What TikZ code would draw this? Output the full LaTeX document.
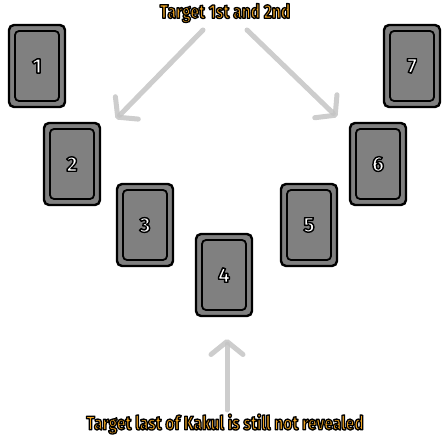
\documentclass[tikz,border=0pt]{standalone}
\usepackage{fontspec}
\setsansfont{Fira Sans}
\newfontfamily\titlefont{Fira Sans}[FakeStretch=0.8]
\usetikzlibrary{arrows.meta,positioning}
\definecolor{cardgray}{HTML}{808080}
\definecolor{titleorange}{HTML}{F4A620}
\definecolor{arrowgray}{HTML}{C4C4C4}
% outlined text: fill in the current colour, stroke in black
\newcommand{\outlined}[2]{\special{pdf:literal direct 0 0 0 RG 1 j #1 w 2 Tr}#2\special{pdf:literal direct 0 Tr}}

\begin{document}
\begin{tikzpicture}[
    x=1pt, y=-1pt,
    card/.style={rectangle, draw=black, line width=2.4pt, fill=cardgray, rounded corners=5pt,
                 minimum width=56pt, minimum height=82pt, inner sep=0pt},
    cardin/.style={rectangle, draw=black, line width=1.8pt, rounded corners=4pt,
                   minimum width=44pt, minimum height=70pt, inner sep=0pt, text=white,
                   font=\sffamily\bfseries\fontsize{21}{21}\selectfont},
    hint/.style={text=titleorange, font=\titlefont\bfseries\fontsize{19.5}{19.5}\selectfont},
    arr/.style={draw=arrowgray, line width=5pt, line cap=round, opacity=0.85,
                -{Straight Barb[length=13pt, width=32pt, line width=5pt, round]}}
]
\useasboundingbox (0,0) rectangle (447,438);

% ---- Cards ----
\foreach \n/\x/\y in {1/37/66, 2/72/164, 3/145/225, 4/224/275, 5/309/225, 6/378/164, 7/412/66}{
    \node[card] (card\n) at (\x,\y) {};
    \node[cardin] (in\n) at (card\n) {\outlined{1.4}{\n}};
}

% ---- Hints ----
\node[hint] (top) at (225,13) {\outlined{1.3}{Target 1st and 2nd}};
\node[hint] (bottom) at (225,424) {\outlined{1.3}{Target last of Kakul is still not revealed}};

% ---- Arrows ----
\coordinate (lstart) at (203,30);
\coordinate (lend) at (116,119);
\coordinate (rstart) at (247,30);
\coordinate (rend) at (337,117);
\coordinate (ustart) at (227,410);
\coordinate (uend) at (227,339);
\draw[arr] (lstart) -- (lend);
\draw[arr] (rstart) -- (rend);
\draw[arr] (ustart) -- (uend);

\end{tikzpicture}
\end{document}
